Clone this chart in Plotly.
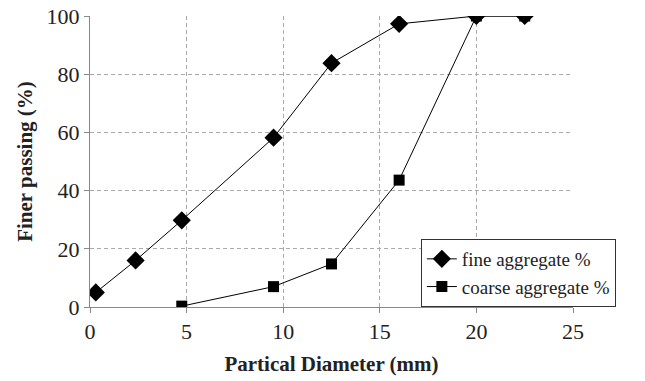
import plotly.graph_objects as go

diam_fine = [0.3, 2.36, 4.75, 9.5, 12.5, 16, 20, 22.5]
fine_pct = [5, 16, 29.8, 58.2, 83.8, 97.3, 100, 100]
diam_coarse = [4.75, 9.5, 12.5, 16, 20, 22.5]
coarse_pct = [0.3, 7, 14.8, 43.6, 100, 100]

fig = go.Figure()
fig.add_trace(go.Scatter(x=diam_fine, y=fine_pct, mode="lines+markers", name="fine aggregate %",
                         line=dict(color="black", width=1),
                         marker=dict(symbol="diamond", size=14, color="black")))
fig.add_trace(go.Scatter(x=diam_coarse, y=coarse_pct, mode="lines+markers", name="coarse aggregate %",
                         line=dict(color="black", width=1),
                         marker=dict(symbol="square", size=11, color="black")))

font = "Liberation Serif, Times New Roman, serif"
fig.update_layout(
    width=645, height=381,
    margin=dict(l=90, r=72, t=16, b=74),
    paper_bgcolor="white", plot_bgcolor="white",
    font=dict(family=font, color="#222222"),
    xaxis=dict(range=[0, 25], dtick=5, showgrid=True, gridcolor="#aaaaaa", griddash="4px,3px", gridwidth=1,
               showline=True, linecolor="#888888", linewidth=1, ticks="outside", ticklen=5, tickcolor="#888888",
               tickfont=dict(size=22, family=font), zeroline=False, automargin=False,
               ticklabeloverflow="allow",
               title=dict(text="<b>Partical Diameter (mm)</b>", font=dict(size=21, family=font), standoff=12)),
    yaxis=dict(range=[0, 100], dtick=20, showgrid=True, gridcolor="#aaaaaa", griddash="4px,3px", gridwidth=1,
               showline=True, linecolor="#888888", linewidth=1, ticks="outside", ticklen=5, tickcolor="#888888",
               tickfont=dict(size=22, family=font), zeroline=False, automargin=False,
               ticklabeloverflow="allow",
               title=dict(text="<b>Finer passing (%)</b>", font=dict(size=21, family=font), standoff=8)),
    legend=dict(x=0.685, y=0.0, xanchor="left", yanchor="bottom", bgcolor="white",
                bordercolor="#333333", borderwidth=1, font=dict(size=19, family=font),
                tracegroupgap=2),
    showlegend=True,
)
fig.write_html("out.html", config={"displayModeBar": False},
               post_script="document.body.style.margin='0';document.body.style.overflow='hidden';")
